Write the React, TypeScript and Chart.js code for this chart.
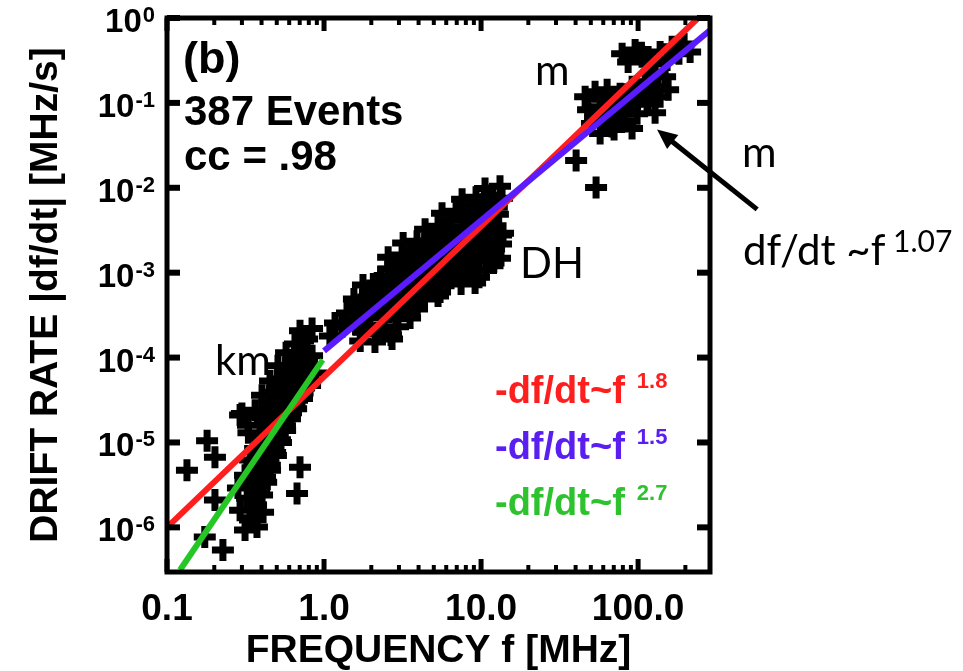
import React, { useEffect, useRef } from "react";
import { Chart, registerables } from "chart.js";

Chart.register(...registerables);

type P = [number, number];

// km events [frequency MHz, |df/dt| MHz/s]
const kmEvents: P[] = [
  [0.314, 9.3e-7], [0.338, 1.22e-6], [0.292, 1.59e-6], [0.369, 1.82e-6], [0.324, 2.2e-6],
  [0.403, 2.4e-6], [0.283, 2.9e-6], [0.348, 3.1e-6], [0.428, 3.4e-6], [0.314, 4.1e-6],
  [0.38, 4.7e-6], [0.453, 4.7e-6], [0.338, 6.2e-6], [0.408, 6.5e-6], [0.494, 7.0e-6],
  [0.364, 8.5e-6], [0.44, 9.2e-6], [0.532, 1.0e-5], [0.391, 1.21e-5], [0.473, 1.31e-5],
  [0.565, 1.38e-5], [0.328, 1.6e-5], [0.421, 1.7e-5], [0.509, 1.9e-5], [0.607, 1.9e-5],
  [0.292, 2.1e-5], [0.364, 2.4e-5], [0.453, 2.7e-5], [0.556, 2.7e-5], [0.664, 2.5e-5],
  [0.403, 3.6e-5], [0.494, 3.9e-5], [0.607, 3.8e-5], [0.724, 3.3e-5], [0.453, 5.3e-5],
  [0.548, 5.6e-5], [0.673, 5.3e-5], [0.815, 4.7e-5], [0.509, 8.0e-5], [0.625, 8.0e-5],
  [0.757, 7.4e-5], [0.889, 6.6e-5], [0.573, 1.14e-4], [0.703, 1.14e-4], [0.839, 1.05e-4],
  [0.653, 1.45e-4], [0.78, 1.66e-4], [0.703, 2.07e-4], [0.839, 2.2e-4], [0.734, 1.57e-4],
  [0.134, 4.7e-6], [0.18, 1.05e-5], [0.202, 6.7e-6], [0.174, 7.7e-7], [0.227, 5.4e-7],
  [0.703, 5.1e-6], [0.673, 2.5e-6], [0.202, 2.1e-6], [0.3, 2.2e-5],
  [1.09, 1.8e-4], [1.175, 2.56e-4],
  [0.355, 1.3e-6], [0.39, 3.0e-6], [0.36, 5.5e-6], [0.42, 8.0e-6], [0.47, 1.1e-5],
  [0.40, 2.0e-5], [0.52, 3.2e-5], [0.58, 6.8e-5], [0.66, 9.5e-5], [0.33, 1.3e-5],
  [0.374, 1.01e-6], [0.409, 1.51e-6], [0.359, 1.82e-6], [0.386, 2.57e-6], [0.348, 3.39e-6],
  [0.421, 3.89e-6], [0.374, 5.13e-6], [0.452, 5.38e-6], [0.403, 7.04e-6], [0.488, 7.62e-6],
  [0.433, 1.0e-5], [0.524, 1.08e-5], [0.466, 1.41e-5], [0.564, 1.57e-5], [0.403, 1.99e-5],
  [0.502, 2.24e-5], [0.616, 2.24e-5], [0.447, 2.98e-5], [0.547, 3.23e-5], [0.673, 3.15e-5],
  [0.502, 4.39e-5], [0.607, 4.64e-5], [0.746, 4.39e-5], [0.564, 6.62e-5], [0.693, 6.62e-5],
  [0.635, 9.44e-5], [0.779, 9.44e-5], [0.724, 1.2e-4],
];

// DH events
const dhEvents: P[] = [
  [10.6, 9.84e-3], [13.2, 1.04e-2],
  [7.57, 7.31e-3], [9.29, 7.72e-3], [11.4, 7.11e-3], [13.6, 7.51e-3],
  [5.64, 5.01e-3], [6.93, 5.28e-3], [8.51, 4.87e-3], [10.45, 5.14e-3], [12.8, 4.87e-3],
  [4.4, 3.25e-3], [5.32, 3.52e-3], [6.54, 3.43e-3], [8.03, 3.25e-3], [9.85, 3.52e-3], [12.1, 3.34e-3], [13.8, 2.92e-3],
  [3.19, 2.23e-3], [3.91, 2.35e-3], [4.8, 2.29e-3], [5.9, 2.41e-3], [7.24, 2.23e-3], [8.89, 2.35e-3], [10.9, 2.29e-3], [13.4, 2.17e-3],
  [2.56, 1.52e-3], [3.14, 1.61e-3], [3.86, 1.65e-3], [4.73, 1.57e-3], [5.81, 1.61e-3], [7.14, 1.52e-3], [8.76, 1.65e-3], [10.8, 1.57e-3], [13.2, 1.48e-3],
  [2.56, 1.1e-3], [3.14, 1.13e-3], [3.86, 1.07e-3], [4.73, 1.1e-3], [5.81, 1.04e-3], [7.14, 1.13e-3], [8.76, 1.07e-3], [10.8, 1.1e-3],
  [1.77, 7.15e-4], [2.18, 7.55e-4], [2.67, 7.76e-4], [3.28, 7.35e-4], [4.03, 7.55e-4], [4.95, 7.15e-4], [6.07, 7.76e-4], [7.46, 7.35e-4], [9.16, 7.55e-4],
  [1.55, 4.9e-4], [1.91, 5.17e-4], [2.34, 5.31e-4], [2.88, 5.03e-4], [3.53, 5.17e-4], [4.34, 4.9e-4], [5.32, 5.31e-4],
  [1.4, 3.36e-4], [1.72, 3.54e-4], [2.11, 3.64e-4], [2.59, 3.45e-4], [3.19, 3.54e-4], [3.91, 3.74e-4],
  [1.3, 2.3e-4], [1.6, 2.43e-4], [1.96, 2.36e-4], [2.41, 2.24e-4], [2.96, 2.3e-4],
  [1.7, 1.57e-4], [2.11, 1.53e-4], [2.71, 1.66e-4],
  [2.3, 9.0e-4], [3.5, 1.35e-3], [5.2, 1.95e-3], [7.8, 2.8e-3], [11.5, 4.1e-3],
  [1.9, 4.1e-4], [2.9, 6.3e-4], [4.4, 9.2e-4], [6.5, 1.3e-3], [9.8, 1.9e-3],
  [12.3, 6.2e-3], [9.3, 4.2e-3], [6.1, 2.8e-3], [4.2, 1.9e-3],
  [11.7, 8.15e-3], [8.39, 6.05e-3], [10.3, 6.39e-3], [12.6, 5.89e-3],
  [6.25, 4.15e-3], [7.68, 4.37e-3], [9.43, 4.03e-3], [11.6, 4.26e-3],
  [4.88, 2.69e-3], [5.89, 2.91e-3], [7.25, 2.84e-3], [8.9, 2.69e-3], [10.9, 2.91e-3], [13.4, 2.77e-3],
  [3.53, 1.85e-3], [4.33, 1.95e-3], [5.32, 1.9e-3], [6.54, 2.0e-3], [8.02, 1.85e-3], [9.85, 1.95e-3], [12.1, 1.9e-3],
  [2.84, 1.26e-3], [3.48, 1.33e-3], [4.28, 1.37e-3], [5.24, 1.3e-3], [6.44, 1.33e-3], [7.91, 1.26e-3], [9.71, 1.37e-3], [12.0, 1.3e-3],
  [2.84, 9.1e-4], [3.48, 9.36e-4], [4.28, 8.86e-4], [5.24, 9.1e-4], [6.44, 8.6e-4], [7.91, 9.36e-4], [9.7, 8.86e-4],
  [1.96, 5.92e-4], [2.42, 6.25e-4], [2.96, 6.43e-4], [3.63, 6.09e-4], [4.47, 6.25e-4], [5.48, 5.92e-4],
  [1.72, 4.06e-4], [2.12, 4.28e-4], [2.59, 4.4e-4], [3.19, 4.16e-4], [3.91, 4.28e-4],
  [1.55, 2.78e-4], [1.91, 2.93e-4], [2.34, 3.01e-4], [2.87, 2.86e-4], [3.53, 2.93e-4],
  [1.77, 2.01e-4], [2.17, 1.95e-4], [2.67, 1.85e-4],
];

// m events
const mEvents: P[] = [
  [79.1, 0.378], [95.7, 0.421], [115.8, 0.348], [138.1, 0.399], [164.7, 0.457],
  [196.3, 0.495], [214.4, 0.399], [86.4, 0.304], [128.3, 0.288], [153.0, 0.321],
  [46.0, 0.118], [53.2, 0.135], [63.5, 0.143], [48.0, 0.0832], [57.3, 0.0902],
  [68.3, 0.103], [76.8, 0.128], [50.9, 0.057], [61.6, 0.0635], [73.5, 0.0747],
  [88.9, 0.0902], [103.0, 0.118], [57.3, 0.0435], [70.3, 0.0485], [82.6, 0.0602],
  [98.5, 0.0747], [115.8, 0.103], [134.1, 0.155], [148.6, 0.203], [110.8, 0.177],
  [91.6, 0.155], [138.1, 0.118], [155.3, 0.143],
  [40.3, 0.021], [54.0, 0.0101], [128.3, 0.0767],
  [105, 0.39], [180, 0.42], [122, 0.23], [66, 0.075], [94, 0.13],
  [106, 0.349], [182, 0.378], [58.9, 0.112], [70.4, 0.118], [63.5, 0.0747],
  [75.7, 0.0853], [85.1, 0.106], [68.3, 0.0526], [114, 0.0977], [91.5, 0.0498],
  [122.8, 0.147], [101.5, 0.128], [53.2, 0.0689],
];

// power-law fit lines (end points)
const fitRed: P[] = [[0.1, 1.0e-6], [241, 1.0]];
const fitBlue: P[] = [[1.0, 1.2e-4], [288, 0.72]];
const fitGreen: P[] = [[0.121, 3.15e-7], [0.98, 9.4e-5]];

const xRange: [number, number] = [0.1, 287];
const yRange: [number, number] = [2.98e-7, 1];
const xMajorTicks = [0.1, 1, 10, 100];
const xMajorLabels = ["0.1", "1.0", "10.0", "100.0"];
const xMinorTicks = [0.2, 0.3, 0.4, 0.5, 0.6, 0.7, 0.8, 0.9, 2, 3, 4, 5, 6, 7, 8, 9, 20, 30, 40, 50, 60, 70, 80, 90, 200];
const yTicks = [1, 1e-1, 1e-2, 1e-3, 1e-4, 1e-5, 1e-6];
const yTickExponents = ["0", "-1", "-2", "-3", "-4", "-5", "-6"];

const RED = "#ff1e1e";
const BLUE = "#5a1cff";
const GREEN = "#26c626";

const legendItems = [
  { text: "-df/dt~f", exponent: "1.8", color: RED },
  { text: "-df/dt~f", exponent: "1.5", color: "#5a1ef0" },
  { text: "-df/dt~f", exponent: "2.7", color: "#2ec22e" },
];

const arrowTip: P = [132, 0.0485];
const arrowTail: P = [573, 5.57e-3];

const SANS = "'Liberation Sans', Arial, Helvetica, sans-serif";
const NOTE = "Lato, 'Open Sans', sans-serif";

const overlayPlugin = {
  id: "overlay",
  afterDatasetsDraw(chart: any) {
    const { ctx, chartArea: a, scales } = chart;
    const xs = scales.x;
    const ys = scales.y;
    ctx.save();
    ctx.strokeStyle = "#000";
    ctx.lineCap = "butt";
    const seg = (x1: number, y1: number, x2: number, y2: number, w: number) => {
      ctx.lineWidth = w;
      ctx.beginPath();
      ctx.moveTo(x1, y1);
      ctx.lineTo(x2, y2);
      ctx.stroke();
    };
    for (const v of xMajorTicks) {
      const px = xs.getPixelForValue(v);
      seg(px, a.bottom, px, a.bottom - 13, 5);
      seg(px, a.top, px, a.top + 13, 5);
    }
    for (const v of xMinorTicks) {
      const px = xs.getPixelForValue(v);
      seg(px, a.bottom, px, a.bottom - 7, 4);
      seg(px, a.top, px, a.top + 7, 4);
    }
    for (const v of yTicks) {
      const py = ys.getPixelForValue(v);
      seg(a.left, py, a.left + 13, py, 6);
      seg(a.right, py, a.right - 13, py, 6);
    }
    ctx.lineWidth = 5;
    ctx.strokeRect(a.left, a.top, a.right - a.left, a.bottom - a.top);
    ctx.restore();
  },
  afterDraw(chart: any) {
    const { ctx, scales } = chart;
    const xs = scales.x;
    const ys = scales.y;
    ctx.save();
    ctx.fillStyle = "#000";
    ctx.textBaseline = "alphabetic";

    // y tick labels 10^n
    yTicks.forEach((v, i) => {
      const py = ys.getPixelForValue(v);
      ctx.textAlign = "right";
      ctx.font = `bold 22px ${SANS}`;
      const sup = yTickExponents[i];
      const supW = ctx.measureText(sup).width;
      ctx.fillText(sup, 155, py + 4);
      ctx.font = `bold 33px ${SANS}`;
      ctx.fillText("10", 155 - supW - 1, py + 14);
    });

    ctx.textAlign = "left";
    ctx.font = `bold 45px ${SANS}`;
    ctx.fillText("(b)", 183, 73);
    ctx.font = `bold 42px ${SANS}`;
    ctx.fillText("387 Events", 184, 125);
    ctx.fillText("cc = .98", 184, 170);

    // legend
    legendItems.forEach((item, i) => {
      const base = 403 + i * 56;
      ctx.fillStyle = item.color;
      ctx.font = `bold 38px ${SANS}`;
      ctx.fillText(item.text, 495, base);
      const w = ctx.measureText(item.text).width;
      ctx.font = `bold 22px ${SANS}`;
      ctx.fillText(item.exponent, 495 + w + 12, base - 15);
    });

    // notes
    ctx.fillStyle = "#000";
    ctx.font = `42px ${NOTE}`;
    ctx.fillText("m", 535, 85);
    ctx.fillText("DH", 520, 278);
    ctx.fillText("km", 215, 375);
    ctx.fillText("m", 742, 167);
    ctx.fillText("df/dt ~f", 743, 265);
    ctx.font = `30px ${NOTE}`;
    ctx.fillText("1.07", 893, 252);

    // arrow
    const tx = xs.getPixelForValue(arrowTip[0]);
    const ty = ys.getPixelForValue(arrowTip[1]);
    const sx = xs.getPixelForValue(arrowTail[0]);
    const sy = ys.getPixelForValue(arrowTail[1]);
    const dx = tx - sx;
    const dy = ty - sy;
    const len = Math.hypot(dx, dy);
    const ux = dx / len;
    const uy = dy / len;
    const headL = 20;
    const headW = 9;
    ctx.strokeStyle = "#000";
    ctx.lineWidth = 5;
    ctx.beginPath();
    ctx.moveTo(sx, sy);
    ctx.lineTo(tx - ux * (headL - 2), ty - uy * (headL - 2));
    ctx.stroke();
    ctx.beginPath();
    ctx.moveTo(tx, ty);
    ctx.lineTo(tx - ux * headL - uy * headW, ty - uy * headL + ux * headW);
    ctx.lineTo(tx - ux * headL + uy * headW, ty - uy * headL - ux * headW);
    ctx.closePath();
    ctx.fill();
    ctx.restore();
  },
};

export default function App() {
  const ref = useRef<HTMLCanvasElement>(null);
  useEffect(() => {
    const canvas = ref.current;
    if (!canvas) return;
    const toXY = (pts: P[]) => pts.map(([x, y]) => ({ x, y }));
    const events = {
      showLine: false,
      pointStyle: "cross",
      pointRadius: 11,
      pointHoverRadius: 11,
      borderWidth: 7,
      pointBorderWidth: 7,
      borderColor: "#000",
      pointBorderColor: "#000",
      pointBackgroundColor: "#000",
    };
    const fit = (color: string) => ({
      showLine: true,
      borderColor: color,
      borderWidth: 6,
      pointRadius: 0,
      pointHoverRadius: 0,
      fill: false,
    });
    const chart = new Chart(canvas, {
      type: "scatter",
      data: {
        datasets: [
          { label: "fit 1.5", data: toXY(fitBlue), ...fit(BLUE) },
          { label: "fit 2.7", data: toXY(fitGreen), ...fit(GREEN) },
          { label: "fit 1.8", data: toXY(fitRed), ...fit(RED) },
          { label: "km", data: toXY(kmEvents), ...events },
          { label: "DH", data: toXY(dhEvents), ...events },
          { label: "m", data: toXY(mEvents), ...events },
        ] as any,
      },
      options: {
        animation: false,
        responsive: false,
        devicePixelRatio: 1,
        layout: { padding: { top: 16, right: 253, left: 0, bottom: 0 } },
        plugins: { legend: { display: false }, tooltip: { enabled: false } },
        scales: {
          x: {
            type: "logarithmic",
            min: xRange[0],
            max: xRange[1],
            afterBuildTicks: (scale: any) => {
              scale.ticks = [...xMajorTicks, ...xMinorTicks]
                .sort((p, q) => p - q)
                .map((v) => ({ value: v, major: xMajorTicks.includes(v) }));
            },
            afterFit: (scale: any) => {
              scale.height = 99;
            },
            grid: { display: false, drawTicks: false },
            border: { display: false },
            ticks: {
              autoSkip: false,
              maxRotation: 0,
              minRotation: 0,
              padding: 16,
              color: "#000",
              font: { family: SANS, size: 37, weight: "bold" },
              callback: (value: any) => {
                const i = xMajorTicks.indexOf(Number(value));
                return i >= 0 ? xMajorLabels[i] : "";
              },
            },
            title: {
              display: true,
              text: "FREQUENCY f [MHz]",
              color: "#000",
              font: { family: SANS, size: 39, weight: "bold", lineHeight: 1 },
              padding: { top: 0, bottom: 0 },
            },
          },
          y: {
            type: "logarithmic",
            min: yRange[0],
            max: yRange[1],
            afterBuildTicks: (scale: any) => {
              scale.ticks = yTicks.map((v) => ({ value: v, major: true }));
            },
            afterFit: (scale: any) => {
              scale.width = 167;
            },
            grid: { display: false, drawTicks: false },
            border: { display: false },
            ticks: { display: false },
            title: {
              display: true,
              text: "DRIFT RATE |df/dt| [MHz/s]",
              color: "#000",
              font: { family: SANS, size: 39, weight: "bold", lineHeight: 1 },
              padding: { top: 27, bottom: 0 },
            },
          },
        },
      } as any,
      plugins: [overlayPlugin],
    });
    return () => chart.destroy();
  }, []);
  return (
    <div style={{ position: "absolute", left: 0, top: 0, width: 963, height: 671, background: "#fff" }}>
      <canvas ref={ref} width={963} height={671} />
    </div>
  );
}
